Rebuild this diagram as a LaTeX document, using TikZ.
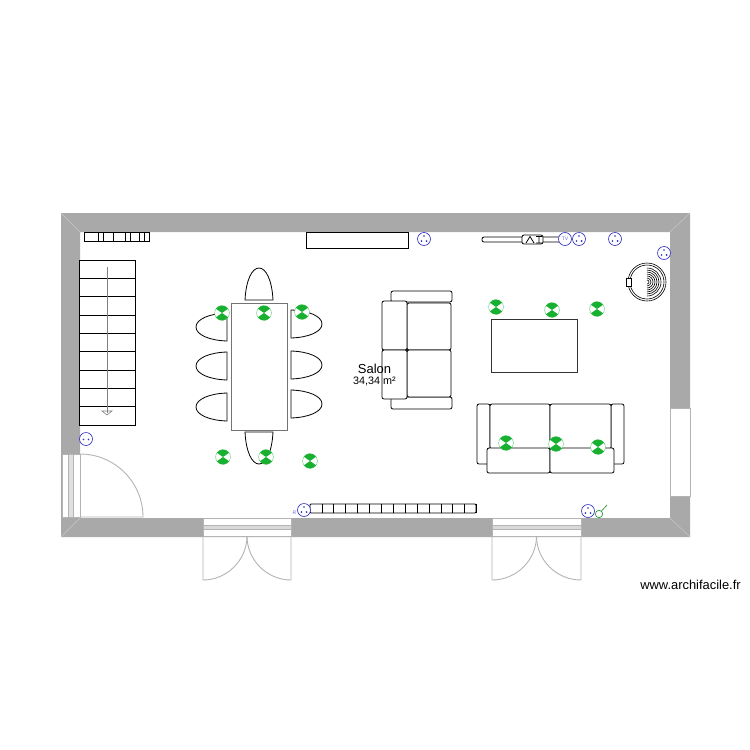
\documentclass[tikz,border=0pt]{standalone}
\usepackage{fontspec}
\setmainfont{Liberation Sans}
\definecolor{wallc}{HTML}{A9A9A9}
\definecolor{doorc}{HTML}{B4B4B4}
\definecolor{lampc}{HTML}{18B030}
\definecolor{elec}{HTML}{2A2AC0}
\tikzset{
  x=1pt,y=-1pt,
  furn/.style={draw=black,line width=0.8pt,fill=white},
  furnline/.style={draw=black,line width=0.8pt},
  softc/.style={draw=black,line width=0.8pt,fill=white,rounded corners=2pt},
  doorline/.style={draw=doorc,line width=0.9pt},
  elecline/.style={draw=elec,line width=0.6pt},
  lamp/.pic={
    \fill[white] (0,0) circle[radius=7.4pt];
    \draw[lampc!70,line width=0.4pt] (0,0) circle[radius=7.4pt];
    \fill[lampc] (0,0) -- (35:7.4pt) arc[start angle=35,end angle=145,radius=7.4pt] -- cycle;
    \fill[lampc] (0,0) -- (215:7.4pt) arc[start angle=215,end angle=325,radius=7.4pt] -- cycle;
  },
  outlet/.pic={
    \draw[elecline,fill=white] (0,0) circle[radius=6.5pt];
    \fill[elec] (0,-3) circle[radius=0.9pt] (-2.6,2) circle[radius=0.9pt] (2.6,2) circle[radius=0.9pt];
  },
  chairside/.pic={
    \draw[furn] (0,0) .. controls (-17,0.5) and (-31,6) .. (-31,14) .. controls (-31,22) and (-17,27.5) .. (0,28) -- cycle;
  },
}
\begin{document}
\begin{tikzpicture}
\useasboundingbox (0,0) rectangle (750,750);
\fill[white] (0,0) rectangle (750,750);
% walls
\fill[wallc,even odd rule] (61,213) rectangle (690,537) (80,232) rectangle (670,518);
\draw[white!35!wallc,line width=0.5pt] (61,213) -- (80,232) (690,213) -- (670,232) (61,537) -- (80,518) (690,537) -- (670,518);
% right window
\draw[doorline,fill=white] (670,408) rectangle (690,496);
% left door
\draw[doorline,fill=white] (62,454) rectangle (80,517);
\draw[doorline,fill=black!12] (68,454) rectangle (73,517);
\draw[doorline] (80,517) -- (143,517) arc[start angle=0,end angle=90,radius=63pt];
% bottom doors
\foreach \xa/\xb/\xm in {203/291/247,492/581/536.5}{
  \draw[doorline,fill=white] (\xa,518) rectangle (\xb,536);
  \draw[doorline,fill=black!15] (\xa,525) rectangle (\xb,529);
  \draw[doorline] (\xa,536) -- (\xa,580) .. controls (\xm-20,580) and (\xm,560) .. (\xm,536);
  \draw[doorline] (\xb,536) -- (\xb,580) .. controls (\xm+20,580) and (\xm,560) .. (\xm,536);
}
% stairs
\draw[furn,line width=0.9pt] (79,260) rectangle (135,425);
\foreach \k in {1,...,8}{ \draw[furnline] (79,{260+\k*18.33}) -- (135,{260+\k*18.33}); }
\draw[draw=black!50,line width=0.7pt] (107,267) -- (107,413);
\draw[draw=black!50,line width=0.6pt] (102,411) -- (112,411) -- (107,415) -- cycle;
% top-left radiator
\draw[furn] (84,232) rectangle (149,241);
\foreach \x in {98,103,113,125,130,139,144}{ \draw[furnline] (\x,232) -- (\x,241); }
% bottom radiator
\draw[softc,rounded corners=1pt] (310,504) rectangle (476,513);
\foreach \k in {1,...,14}{ \draw[furnline] ({310+\k*11.9},504) -- ({310+\k*11.9},513); }
% top unit
\draw[furn] (306,232) rectangle (408,248);
% table and chairs
\draw[draw=black!55,line width=0.9pt,fill=white] (231,303) rectangle (287,430);
\draw[furn] (245,300) .. controls (246,280) and (252,268) .. (259,268) .. controls (266,268) and (272,280) .. (273,300) -- cycle;
\draw[furn] (245,432) .. controls (246,452) and (252,464) .. (259,464) .. controls (266,464) and (272,452) .. (273,432) -- cycle;
\pic at (227,313) {chairside};
\pic at (227,352) {chairside};
\pic at (227,393) {chairside};
\pic[xscale=-1] at (291,310) {chairside};
\pic[xscale=-1] at (291,351) {chairside};
\pic[xscale=-1] at (291,390) {chairside};
% sofa 1
\draw[softc] (391,291) rectangle (452,302);
\draw[softc] (391,397) rectangle (452,409);
\draw[softc] (407,303) rectangle (451,350);
\draw[softc] (407,350) rectangle (451,397);
\draw[softc] (382,301) rectangle (407,350);
\draw[softc] (382,350) rectangle (407,399);
% rug
\draw[draw=black!80,line width=0.9pt,fill=white] (491,319) rectangle (577,372);
% sofa 2
\draw[softc] (477,404) rectangle (490,464);
\draw[softc] (611,404) rectangle (624,464);
\draw[softc] (490,404) rectangle (550,449);
\draw[softc] (550,404) rectangle (611,449);
\draw[softc] (487,448) rectangle (550,473);
\draw[softc] (550,448) rectangle (614,473);
% TV unit
\draw[softc] (482,237) rectangle (570,242);
\draw[softc] (522,235) rectangle (543,244);
\draw[furnline] (526,243) -- (530,236.5) -- (534,243) (536,236.5) -- (542,236.5) (539,236.5) -- (539,243) (536,243) -- (542,243);
% circular item
\draw[furnline,line width=0.6pt] (647,282) circle[radius=19pt];
\draw[furnline,line width=0.6pt] (647,282) circle[radius=17pt];
\foreach \r in {2,4,6,8,10,12,14}{
  \draw[furnline,line width=0.6pt] (647,{282-\r}) arc[start angle=90,end angle=-90,radius=\r pt];
}
\draw[furn,line width=0.7pt] (626.5,278) rectangle (631,286);
% lamps
\foreach \x/\y in {222/313,264/313,302/312,223/457,266/457,310/461,496/307,552/310,597/309,506/443,556/444,598/447}{
  \pic at (\x,\y) {lamp};
}
% outlets
\foreach \x/\y in {424/239,579/239,615/239,664/253,304/510,588/511}{
  \pic at (\x,\y) {outlet};
}
\draw[elecline,fill=white] (86,439) circle[radius=6.5pt];
\fill[elec] (83.5,439.5) circle[radius=0.9pt] (88.5,439.5) circle[radius=0.9pt];
\draw[elecline,fill=white] (565,239) circle[radius=6.5pt];
\node[text=elec!70,font=\fontsize{5}{5}\selectfont,inner sep=0pt] (tvlabel) at (565,239) {TV};
\node[text=elec!70,font=\fontsize{5}{5}\selectfont,inner sep=0pt] (rlabel) at (294.5,512.5) {R};
% switch
\draw[draw=lampc!80!black,line width=0.6pt] (599,514) circle[radius=3.7pt];
\draw[draw=lampc!80!black,line width=0.6pt] (601.5,511) -- (607,505);
% texts
\node[font=\fontsize{13}{13}\selectfont,inner sep=0pt] (roomname) at (374.5,369) {Salon};
\node[font=\fontsize{10.8}{10.8}\selectfont,inner sep=0pt] (roomarea) at (374.5,381.5) {34,34 m²};
\node[font=\fontsize{12.9}{12.9}\selectfont,inner sep=0pt] (credit) at (690.5,585) {www.archifacile.fr};
\end{tikzpicture}
\end{document}
